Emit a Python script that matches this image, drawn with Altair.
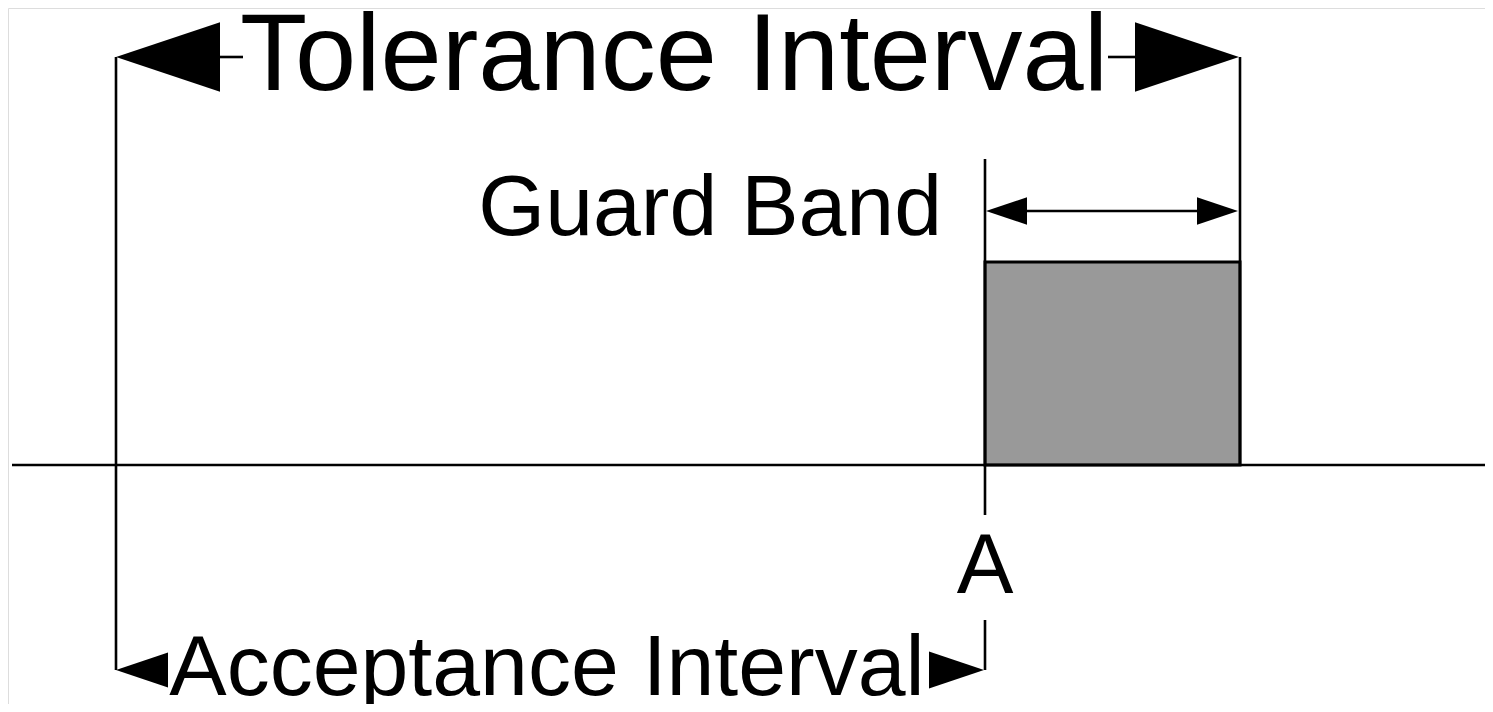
import altair as alt
import pandas as pd

# Line segments (x1, y1, x2, y2) in diagram units
seg_x1 = [12, 116, 1240, 985, 985, 220, 1108, 1027]
seg_y1 = [465, 57, 57, 159, 620, 57, 57, 211]
seg_x2 = [1485, 116, 1240, 985, 985, 243, 1135, 1197]
seg_y2 = [465, 670, 465, 515, 670, 57, 57, 211]

# Arrowheads: tip x, base x, centre y, pointing direction
arr_tip = [116, 1239, 986, 1238, 116, 984]
arr_base = [220, 1135, 1027, 1197, 168, 929]
arr_yc = [57, 57, 211, 211, 670, 670]
arr_dir = ["left", "right", "left", "right", "left", "right"]

# Guard band rectangle
rect_x1 = [985]
rect_x2 = [1240]
rect_y1 = [262]
rect_y2 = [465]

# Labels
lab_text = ["Tolerance Interval", "A", "Acceptance Interval"]
lab_x = [674, 985, 547]
lab_y = [90, 593, 695]
lab_size = [110, 85, 86]
gb_text = ["Guard Band"]
gb_x = [942]
gb_y = [235]
gb_size = [86]

W, H = 1477, 696
xs = alt.Scale(domain=[8, 1485], nice=False, zero=False)
ys = alt.Scale(domain=[704, 8], nice=False, zero=False)

segs = pd.DataFrame({"x1": seg_x1, "y1": seg_y1, "x2": seg_x2, "y2": seg_y2})
arrows = pd.DataFrame({
    "xc": [(t + b) / 2 for t, b in zip(arr_tip, arr_base)],
    "y": arr_yc,
    "size": [abs(t - b) ** 2 for t, b in zip(arr_tip, arr_base)],
    "dir": arr_dir,
})
rect = pd.DataFrame({"x1": rect_x1, "x2": rect_x2, "y1": rect_y1, "y2": rect_y2})
labels = pd.DataFrame({"t": lab_text, "x": lab_x, "y": lab_y, "s": lab_size})
gb = pd.DataFrame({"t": gb_text, "x": gb_x, "y": gb_y, "s": gb_size})

rect_layer = alt.Chart(rect).mark_rect(fill="#999999", stroke="black", strokeWidth=3).encode(
    x=alt.X("x1:Q", scale=xs, axis=None), x2="x2:Q",
    y=alt.Y("y1:Q", scale=ys, axis=None), y2="y2:Q")

rules = alt.Chart(segs).mark_rule(color="black", strokeWidth=2.6).encode(
    x=alt.X("x1:Q", scale=xs, axis=None), x2="x2:Q",
    y=alt.Y("y1:Q", scale=ys, axis=None), y2="y2:Q")

LEFT = "M-1,0L1,-0.67L1,0.67Z"
RIGHT = "M1,0L-1,-0.67L-1,0.67Z"

def heads(direction, shape):
    return alt.Chart(arrows).transform_filter(
        alt.datum.dir == direction
    ).mark_point(shape=shape, filled=True, fill="black", opacity=1, strokeWidth=0).encode(
        x=alt.X("xc:Q", scale=xs, axis=None),
        y=alt.Y("y:Q", scale=ys, axis=None),
        size=alt.Size("size:Q", scale=None, legend=None))

text_c = alt.Chart(labels).mark_text(align="center", baseline="alphabetic",
                                     font="Liberation Sans", color="black").encode(
    x=alt.X("x:Q", scale=xs, axis=None), y=alt.Y("y:Q", scale=ys, axis=None),
    text="t:N", size=alt.Size("s:Q", scale=None, legend=None))

text_r = alt.Chart(gb).mark_text(align="right", baseline="alphabetic",
                                 font="Liberation Sans", color="black").encode(
    x=alt.X("x:Q", scale=xs, axis=None), y=alt.Y("y:Q", scale=ys, axis=None),
    text="t:N", size=alt.Size("s:Q", scale=None, legend=None))

chart = alt.layer(rect_layer, rules, heads("left", LEFT), heads("right", RIGHT),
                  text_c, text_r).properties(
    width=W, height=H, padding=0, autosize=alt.AutoSizeParams(type="none")
).configure_view(stroke=None).configure(background="white")

chart.save("out.html", embed_options={"renderer": "svg", "actions": False})
